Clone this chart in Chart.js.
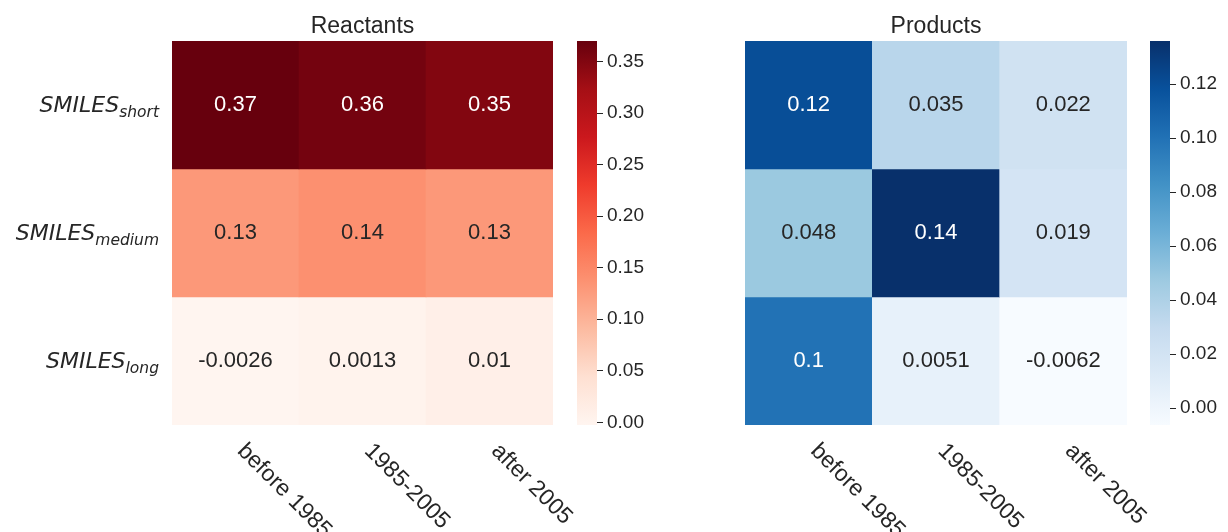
<!DOCTYPE html>
<html>
<head>
<meta charset="utf-8">
<title>Reactants / Products correlation heatmaps</title>
<script src="https://cdn.jsdelivr.net/npm/chart.js@4.4.1/dist/chart.umd.min.js"></script>
<style>
  html, body { margin: 0; padding: 0; background: #ffffff; }
  #fig { position: relative; width: 1228px; height: 532px; overflow: hidden; background: #ffffff; }
  #fig canvas { position: absolute; top: 0; }
</style>
</head>
<body>
<div id="fig">
  <canvas id="reactants" width="580" height="532" style="left:0px"></canvas>
  <canvas id="reactantsBar" width="130" height="532" style="left:560px"></canvas>
  <canvas id="products" width="628" height="532" style="left:600px"></canvas>
  <canvas id="productsBar" width="98" height="532" style="left:1130px"></canvas>
</div>
<script>
// ---- data ----
const periods = ['before 1985', '1985-2005', 'after 2005'];
const rowBase = 'SMILES';
const rowSubs = ['short', 'medium', 'long'];

const reactantsShort  = [0.37, 0.36, 0.35];
const reactantsMedium = [0.13, 0.14, 0.13];
const reactantsLong   = [-0.0026, 0.0013, 0.01];

const productsShort  = [0.12, 0.035, 0.022];
const productsMedium = [0.048, 0.14, 0.019];
const productsLong   = [0.1, 0.0051, -0.0062];

// colour-scale limits and colorbar ticks
const reactantRange = [-0.0026, 0.37];
const productRange  = [-0.0062, 0.136];
const reactantTicks = [0, 0.05, 0.10, 0.15, 0.20, 0.25, 0.30, 0.35];
const productTicks  = [0, 0.02, 0.04, 0.06, 0.08, 0.10, 0.12];

// sequential colour maps (ColorBrewer Reds / Blues)
const redsStops  = ['#fff5f0','#fee0d2','#fcbba1','#fc9272','#fb6a4a','#ef3b2c','#cb181d','#a50f15','#67000d'];
const bluesStops = ['#f7fbff','#deebf7','#c6dbef','#9ecae1','#6baed6','#4292c6','#2171b5','#08519c','#08306b'];

// ---- helpers ----
const TEXT = '#262626';
const SANS = '"Liberation Sans", Arial, sans-serif';

function hexToRgb(h) {
  return [parseInt(h.slice(1, 3), 16), parseInt(h.slice(3, 5), 16), parseInt(h.slice(5, 7), 16)];
}
function sampleMap(stops, t) {
  t = Math.min(1, Math.max(0, t));
  const p = t * (stops.length - 1);
  const i = Math.min(stops.length - 2, Math.floor(p));
  const f = p - i;
  const a = hexToRgb(stops[i]), b = hexToRgb(stops[i + 1]);
  return a.map((v, k) => Math.round(v + (b[k] - v) * f));
}
function rgbStr(c) { return 'rgb(' + c.join(',') + ')'; }
function luminance(c) {
  const lin = c.map(v => { v /= 255; return v <= 0.03928 ? v / 12.92 : Math.pow((v + 0.055) / 1.055, 2.4); });
  return 0.2126 * lin[0] + 0.7152 * lin[1] + 0.0722 * lin[2];
}
function norm(v, range) { return (v - range[0]) / (range[1] - range[0]); }

// text drawn on top of the heatmap: title, cell values, row and column labels
const heatLabels = {
  id: 'heatLabels',
  afterDraw(chart, args, opts) {
    const { ctx, chartArea, scales } = chart;
    ctx.save();

    // title
    ctx.fillStyle = TEXT;
    ctx.font = '23px ' + SANS;
    ctx.textAlign = 'center';
    ctx.textBaseline = 'alphabetic';
    ctx.fillText(opts.title, (chartArea.left + chartArea.right) / 2, chartArea.top - 8);

    // cell annotations
    ctx.font = '22px ' + SANS;
    chart.data.datasets.forEach((ds, i) => {
      const meta = chart.getDatasetMeta(i);
      meta.data.forEach((el, j) => {
        const v = ds.values[j];
        const col = sampleMap(opts.stops, norm(v, opts.range));
        ctx.fillStyle = luminance(col) > 0.408 ? TEXT : '#ffffff';
        ctx.fillText(String(v), el.x, (el.y + el.base) / 2 + 6);
      });
    });

    // row labels  SMILES_sub
    if (opts.rowLabels) {
      chart.data.datasets.forEach((ds, i) => {
        const el = chart.getDatasetMeta(i).data[0];
        const cy = (el.y + el.base) / 2;
        ctx.font = 'italic 22px "DejaVu Sans"';
        const wMain = ctx.measureText(rowBase).width;
        ctx.font = 'italic 15.5px "DejaVu Sans"';
        const wSub = ctx.measureText(rowSubs[i]).width;
        const x0 = chartArea.left - 13 - wMain - wSub;
        ctx.fillStyle = TEXT;
        ctx.textAlign = 'left';
        ctx.font = 'italic 22px "DejaVu Sans"';
        ctx.fillText(rowBase, x0, cy + 7);
        ctx.font = 'italic 15.5px "DejaVu Sans"';
        ctx.fillText(rowSubs[i], x0 + wMain, cy + 11.5);
      });
    }

    // rotated column labels
    ctx.font = '23px ' + SANS;
    ctx.fillStyle = TEXT;
    ctx.textAlign = 'left';
    chart.data.labels.forEach((lab, j) => {
      const x = scales.x.getPixelForValue(j);
      ctx.save();
      ctx.translate(x + 1, chartArea.bottom + 27);
      ctx.rotate(Math.PI / 4);
      ctx.fillText(lab, 0, 0);
      ctx.restore();
    });

    ctx.restore();
  }
};

function heatmap(id, title, rows, stops, range, pad, rowLabels) {
  const n = rows.length;
  const datasets = rows.map((vals, r) => ({
    label: rowSubs[r],
    // each row occupies one unit band of the hidden y scale
    data: vals.map(() => [n - 1 - r, n - r]),
    values: vals,
    backgroundColor: vals.map(v => rgbStr(sampleMap(stops, norm(v, range)))),
    borderWidth: 0,
    grouped: false,
    barPercentage: 1,
    categoryPercentage: 1
  }));
  return new Chart(document.getElementById(id), {
    type: 'bar',
    data: { labels: periods, datasets },
    options: {
      responsive: false,
      animation: false,
      devicePixelRatio: 1,
      layout: { padding: pad },
      scales: {
        x: { display: false },
        y: { display: false, min: 0, max: n }
      },
      plugins: {
        legend: { display: false },
        tooltip: { enabled: false },
        heatLabels: { title, stops, range, rowLabels }
      }
    },
    plugins: [heatLabels]
  });
}

function colorbar(id, stops, range, ticks, padLeft, barWidth) {
  const canvas = document.getElementById(id);
  const axisWidth = canvas.width - padLeft - barWidth;
  return new Chart(canvas, {
    type: 'bar',
    data: {
      labels: [''],
      datasets: [{
        data: [range],
        backgroundColor(context) {
          const { chart } = context;
          if (!chart.chartArea) return stops[0];
          const y = chart.scales.y;
          const g = chart.ctx.createLinearGradient(0, y.getPixelForValue(range[0]), 0, y.getPixelForValue(range[1]));
          stops.forEach((c, i) => g.addColorStop(i / (stops.length - 1), c));
          return g;
        },
        borderWidth: 0,
        barPercentage: 1,
        categoryPercentage: 1
      }]
    },
    options: {
      responsive: false,
      animation: false,
      devicePixelRatio: 1,
      layout: { padding: { left: padLeft, right: 0, top: 41, bottom: 107 } },
      scales: {
        x: { display: false },
        y: {
          position: 'right',
          min: range[0],
          max: range[1],
          afterFit(scale) { scale.width = axisWidth; },
          afterBuildTicks(scale) { scale.ticks = ticks.map(v => ({ value: v })); },
          border: { display: false },
          grid: { drawOnChartArea: false, drawTicks: true, tickLength: 6, tickColor: TEXT, tickWidth: 1 },
          ticks: {
            padding: 4,
            color: TEXT,
            font: { family: SANS, size: 19 },
            callback: v => Number(v).toFixed(2)
          }
        }
      },
      plugins: { legend: { display: false }, tooltip: { enabled: false } }
    }
  });
}

heatmap('reactants', 'Reactants', [reactantsShort, reactantsMedium, reactantsLong],
        redsStops, reactantRange, { left: 172, top: 41, right: 27, bottom: 107 }, true);
colorbar('reactantsBar', redsStops, reactantRange, reactantTicks, 17, 20);

heatmap('products', 'Products', [productsShort, productsMedium, productsLong],
        bluesStops, productRange, { left: 145, top: 41, right: 101, bottom: 107 }, false);
colorbar('productsBar', bluesStops, productRange, productTicks, 20, 20);
</script>
</body>
</html>
